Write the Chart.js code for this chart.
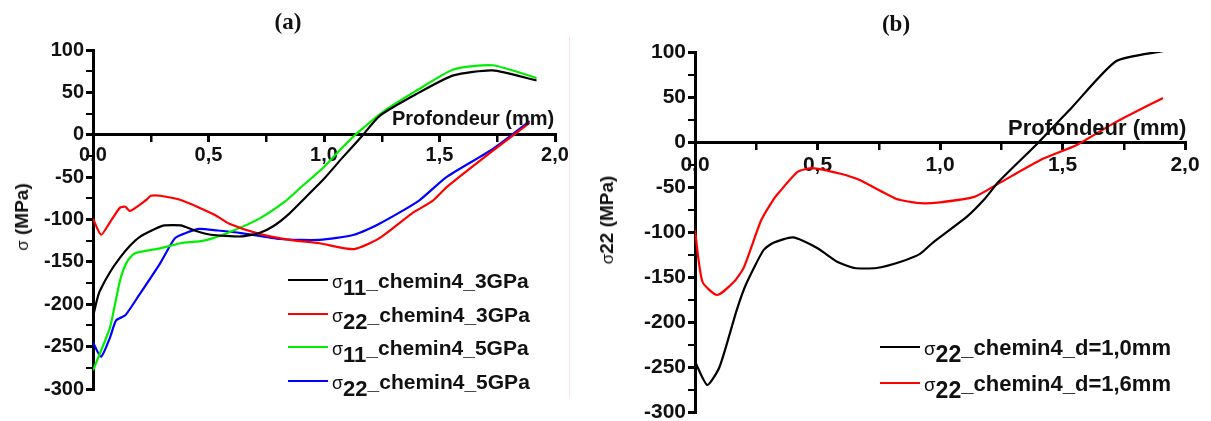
<!DOCTYPE html>
<html>
<head>
<meta charset="utf-8">
<script src="https://cdn.jsdelivr.net/npm/chart.js@4.4.1/dist/chart.umd.min.js"></script>
<style>
  body { margin: 0; background: #fff; width: 1211px; height: 421px; overflow: hidden; position: relative; font-family: "Liberation Sans", Arial, sans-serif; color: #111; }
  .panel { position: absolute; top: 0; height: 421px; }
  .panel canvas { display: block; }
  .tag { position: absolute; font: bold 23px "Liberation Serif", serif; transform: translate(-50%, -50%); }
  .ytitle { position: absolute; font-weight: bold; font-size: 19px; white-space: nowrap; transform: translate(-50%, -50%) rotate(-90deg); }
  .ytitle .sg { font-weight: normal; font-size: 17px; }
  .xtitle { position: absolute; font-weight: bold; white-space: nowrap; transform: translateY(-50%); }
  .legend { position: absolute; }
  .legend .row { position: absolute; left: 0; white-space: nowrap; font-weight: bold; transform: translateY(-50%); }
  .legend .swatch { display: inline-block; width: 40px; height: 0; border-top: 2.5px solid; vertical-align: middle; margin-right: 4px; position: relative; top: -2px; }
  .legend .sg { font-weight: normal; font-size: 0.85em; }
  .legend sub { font-size: 1.05em; vertical-align: -0.3em; line-height: 0; }
  .divider { position: absolute; left: 569px; top: 37px; width: 1px; height: 361px; background: #fbe3e3; }
</style>
</head>
<body>
<div class="panel" style="left:0;width:600px"><canvas id="chartA" width="600" height="421"></canvas></div>
<div class="panel" style="left:600px;width:611px"><canvas id="chartB" width="611" height="421"></canvas></div>
<div class="divider"></div>

<div class="tag" style="left:288px;top:22px">(a)</div>
<div class="tag" style="left:896px;top:24px">(b)</div>

<div class="ytitle" style="left:22px;top:217px"><span class="sg">σ</span> (MPa)</div>
<div class="ytitle" style="left:607px;top:220px"><span class="sg">σ</span>22 (MPa)</div>

<div class="xtitle" style="left:392px;top:118px;font-size:20px">Profondeur (mm)</div>
<div class="xtitle" style="left:1008px;top:128px;font-size:22px">Profondeur (mm)</div>

<div class="legend" id="legendA" style="left:288px;top:0;font-size:21px"></div>
<div class="legend" id="legendB" style="left:880px;top:0;font-size:22px"></div>

<script>
// depth (mm) and stress (MPa)
// panel (a)
const depthS11_3 = [0, 0.017, 0.03, 0.074, 0.117, 0.16, 0.20, 0.27, 0.31, 0.38, 0.44, 0.51, 0.64, 0.72, 0.78, 0.85, 0.92, 1.0, 1.08, 1.16, 1.24, 1.40, 1.56, 1.73, 1.92];
const s11_3 = [-215, -195, -184, -162, -145, -131, -121, -111, -107, -107, -113, -118, -120, -116, -108, -93, -74, -52, -27, -3, 22, 48, 70, 76, 64];

const depthS22_3 = [0, 0.035, 0.074, 0.117, 0.14, 0.16, 0.23, 0.25, 0.29, 0.38, 0.46, 0.53, 0.59, 0.72, 0.85, 0.98, 1.13, 1.24, 1.38, 1.47, 1.53, 1.73, 1.89];
const s22_3 = [-99, -118, -103, -86, -85, -90, -77, -72, -72, -77, -86, -95, -105, -117, -124, -128, -135, -122, -93, -78, -62, -19, 14];

const depthS11_5 = [0, 0.03, 0.074, 0.117, 0.147, 0.18, 0.29, 0.38, 0.48, 0.59, 0.72, 0.83, 0.90, 1.0, 1.08, 1.14, 1.26, 1.40, 1.56, 1.73, 1.92];
const s11_5 = [-278, -258, -227, -172, -150, -140, -134, -128, -125, -115, -99, -79, -62, -38, -15, 1, 28, 52, 77, 82, 67];

const depthS22_5 = [0, 0.035, 0.074, 0.10, 0.14, 0.20, 0.29, 0.355, 0.41, 0.46, 0.54, 0.64, 0.81, 0.98, 1.13, 1.24, 1.41, 1.53, 1.73, 1.89];
const s22_5 = [-245, -262, -239, -219, -213, -189, -152, -122, -115, -111, -113, -116, -123, -124, -118, -105, -78, -50, -17, 16];

// panel (b)
const depthD10 = [0, 0.05, 0.10, 0.17, 0.21, 0.28, 0.32, 0.40, 0.50, 0.58, 0.65, 0.74, 0.84, 0.92, 0.97, 1.11, 1.18, 1.24, 1.40, 1.54, 1.72, 1.91];
const s22_d10 = [-244, -270, -250, -187, -157, -120, -112, -106, -118, -133, -140, -140, -133, -124, -112, -83, -64, -44, -1, 39, 90, 101];

const depthD16 = [0, 0.03, 0.09, 0.16, 0.20, 0.27, 0.32, 0.34, 0.42, 0.48, 0.59, 0.67, 0.82, 0.92, 1.0, 1.14, 1.24, 1.41, 1.56, 1.71, 1.91];
const s22_d16 = [-98, -155, -170, -155, -139, -87, -64, -57, -33, -29, -35, -42, -63, -68, -67, -61, -46, -20, -3, 21, 49];

const labelsA = [['11', 'chemin4_3GPa'], ['22', 'chemin4_3GPa'], ['11', 'chemin4_5GPa'], ['22', 'chemin4_5GPa']];
const labelsB = [['22', 'chemin4_d=1,0mm'], ['22', 'chemin4_d=1,6mm']];
const colorsA = ['#000000', '#ff0000', '#00ee00', '#0000ff'];
const colorsB = ['#000000', '#ff0000'];

function pts(xs, ys) {
  return xs.map((x, i) => ({ x: x, y: ys[i] }));
}

function makeDatasets(series, labels, colors, width) {
  return series.map((s, i) => ({
    label: 'σ' + labels[i][0] + '_' + labels[i][1],
    data: pts(s[0], s[1]),
    borderColor: colors[i],
    borderWidth: width,
    pointRadius: 0,
    tension: 0.2,
    fill: false
  }));
}

function makeOptions(yWidth, pad, fontSize, xPad) {
  const tickFont = { family: 'Liberation Sans', weight: 'bold', size: fontSize };
  return {
    responsive: false,
    animation: false,
    layout: { padding: pad },
    plugins: { legend: { display: false }, tooltip: { enabled: false } },
    scales: {
      x: {
        type: 'linear',
        position: { y: 0 },
        min: 0, max: 2,
        afterFit: (s) => { s.paddingLeft = 0; s.paddingRight = 0; },
        border: { display: true, color: '#000', width: 3 },
        grid: {
          drawOnChartArea: false, tickLength: 6, color: '#000',
          lineWidth: (c) => (c.tick && Math.abs(c.tick.value * 2 - Math.round(c.tick.value * 2)) < 1e-6 ? 3 : 2.5)
        },
        ticks: {
          stepSize: 0.25, color: '#111', font: tickFont, padding: xPad, maxRotation: 0, autoSkip: false,
          callback: (v) => (Math.abs(v * 2 - Math.round(v * 2)) < 1e-6 ? v.toFixed(1).replace('.', ',') : '')
        }
      },
      y: {
        type: 'linear',
        position: 'left',
        min: -300, max: 100,
        afterFit: (s) => { s.width = yWidth; s.paddingTop = 0; s.paddingBottom = 0; },
        border: { display: true, color: '#000', width: 3 },
        grid: {
          drawOnChartArea: false, tickLength: 7, color: '#000',
          lineWidth: (c) => (c.tick && c.tick.value % 50 === 0 ? 3 : 2)
        },
        ticks: {
          stepSize: 25, color: '#111', font: tickFont, padding: 2, autoSkip: false,
          callback: (v) => (v % 50 === 0 ? String(v) : '')
        }
      }
    }
  };
}

function buildLegend(el, datasets, labels, rowsY) {
  el.innerHTML = datasets.map((d, i) =>
    '<div class="row" style="top:' + rowsY[i] + 'px"><span class="swatch" style="border-color:' + d.borderColor + '"></span>' +
    '<span class="sg">σ</span><sub>' + labels[i][0] + '</sub>_' + labels[i][1] + '</div>'
  ).join('');
}

const dsA = makeDatasets([[depthS11_3, s11_3], [depthS22_3, s22_3], [depthS11_5, s11_5], [depthS22_5, s22_5]], labelsA, colorsA, 2.2);
const dsB = makeDatasets([[depthD10, s22_d10], [depthD16, s22_d16]], labelsB, colorsB, 2.2);

new Chart(document.getElementById('chartA').getContext('2d'), {
  type: 'line',
  data: { datasets: dsA },
  options: makeOptions(93, { top: 50, right: 45, bottom: 32, left: 0 }, 20, 3)
});

new Chart(document.getElementById('chartB').getContext('2d'), {
  type: 'line',
  data: { datasets: dsB },
  options: makeOptions(95, { top: 52, right: 26, bottom: 9, left: 0 }, 21, 5)
});

buildLegend(document.getElementById('legendA'), dsA, labelsA, [281, 315, 348, 382]);
buildLegend(document.getElementById('legendB'), dsB, labelsB, [348, 384]);
</script>
</body>
</html>
